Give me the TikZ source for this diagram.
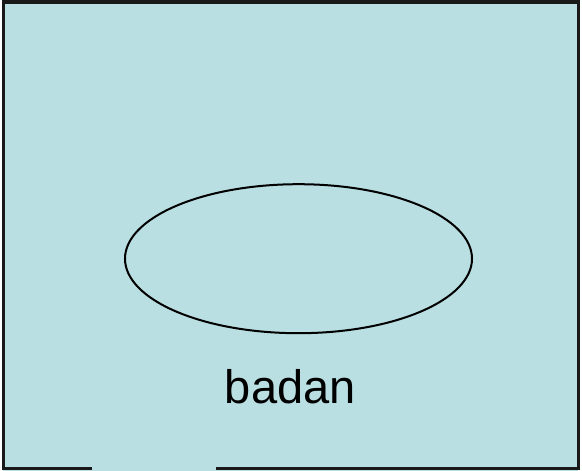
\documentclass[tikz,border=0pt]{standalone}
\usepackage{fontspec}
\setmainfont{Liberation Sans}
\usetikzlibrary{shapes.geometric,positioning}
\definecolor{paneblue}{RGB}{185,223,226}

\begin{document}
\begin{tikzpicture}[x=1pt, y=-1pt, line join=miter,
  frame/.style={line width=3pt, black!90},
  oval/.style={ellipse, draw, line width=2pt, minimum width=347pt, minimum height=149pt, inner sep=0pt}]
\useasboundingbox (0,0) rectangle (582,471);
% background panel, frame open at the bottom left
\fill[paneblue] (3,2) rectangle (578,471);
\draw[frame] (92,468) -- (3,468) -- (3,2) -- (578,2) -- (578,468) -- (216,468);
\node[oval] (body) at (298.5,258.7) {};
\node[font=\fontsize{47}{50}\selectfont, anchor=base, inner sep=0pt] (label) at (290.3,403.3) {badan};
\end{tikzpicture}
\end{document}
